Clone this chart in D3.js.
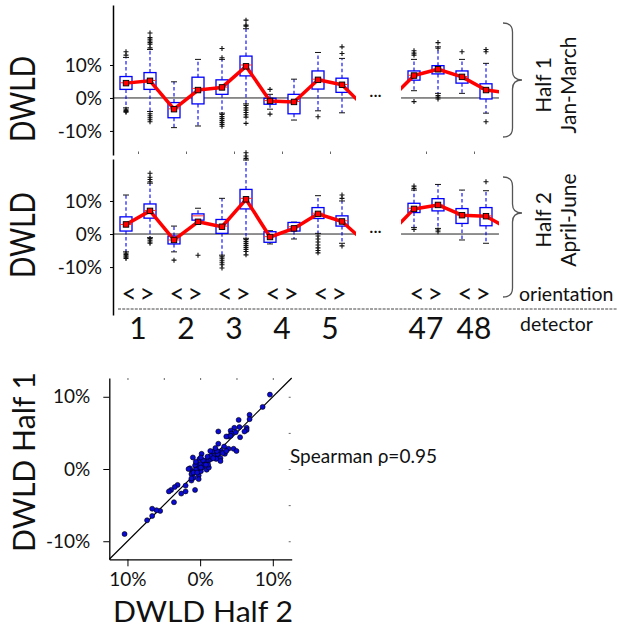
<!DOCTYPE html>
<html>
<head>
<meta charset="utf-8">
<script src="https://cdn.jsdelivr.net/npm/d3@7"></script>
<style>
  body { margin: 0; background: #fff; }
  text { font-family: Lato, "Open Sans", sans-serif; fill: #111; }
</style>
</head>
<body>
<div id="chart"></div>
<script>
// ---- data ----
// box slots (two orientations per detector); 10,11 are the gap, 16 off to the right
const slots = [0, 1, 2, 3, 4, 5, 6, 7, 8, 9, 12, 13, 14, 15];
const orientLabels = ["<", ">", "<", ">", "<", ">", "<", ">", "<", ">", "<", ">", "<", ">"];
const detectors = ["1", "2", "3", "4", "5", "47", "48"];
const detectorSlots = [0.5, 2.5, 4.5, 6.5, 8.5, 12.5, 14.5];
const yTicks = [-10, 0, 10];

// Half 1 (Jan-March), values in %
const h1Lo   = [-3.0, -4.1, -9.0, -8.5, -4.6, -1.8, -3.4, -6.7, -3.9, -4.5, 2.2, 1.4, 1.4, -4.6];
const h1Q1   = [2.6, 2.6, -6.0, -1.8, 1.1, 6.7, -1.9, -4.8, 2.7, 1.7, 5.4, 7.3, 4.5, -0.3];
const h1Med  = [4.6, 5.3, -3.3, 2.9, 3.3, 10.0, -0.8, -1.1, 5.7, 4.1, 6.9, 8.7, 6.5, 2.6];
const h1Q3   = [6.5, 7.7, -1.4, 6.3, 5.5, 12.7, -0.1, 1.1, 8.2, 6.0, 8.2, 9.8, 8.2, 4.3];
const h1Hi   = [12.3, 14.7, 4.9, 11.7, 11.7, 21.0, 1.1, 5.7, 13.8, 12.0, 11.7, 15.5, 11.7, 10.5];
const h1Mean = [4.5, 5.2, -3.4, 2.4, 3.2, 9.6, -0.9, -1.2, 5.5, 4.0, 6.8, 8.7, 6.4, 2.4];
const h1Out  = [
  [13.0, 14.0, -3.4, -3.8, -4.1, -4.3],
  [15.2, 16.3, 16.8, 17.3, 17.8, 18.3, 19.7, -4.8, -5.4, -6.0, -6.6, -7.2],
  [], [],
  [12.2, 15.0, -5.0, -5.6, -6.2, -6.8, -7.4, -8.0, -8.6],
  [21.8, 22.1, 23.6, -2.3, -3.0, -3.7, -4.4, -5.1, -5.8, -7.7],
  [2.6, -4.9], [], [-5.7], [13.5, 15.5],
  [13.0, 13.6, 14.3, -1.1],
  [16.8, 15.1, 0.7, 0.2, -0.3],
  [14.0],
  [14.0, 14.7, -7.2]
];

// Half 2 (April-June)
const h2Lo   = [-5.4, -1.1, -5.4, 4.0, -6.4, -1.3, -3.0, -1.5, 0.2, -2.8, 2.0, 1.7, -1.8, -2.8];
const h2Q1   = [0.9, 4.8, -3.0, 4.2, 0.2, 7.6, -2.5, 0.9, 4.7, 2.4, 6.5, 7.0, 3.2, 2.5];
const h2Med  = [2.9, 7.1, -1.8, 5.5, 2.4, 10.8, -0.8, 2.2, 6.3, 4.0, 7.8, 8.8, 5.7, 5.5];
const h2Q3   = [5.2, 9.1, -0.6, 6.1, 4.4, 13.5, 0.7, 3.5, 8.0, 5.5, 9.3, 10.7, 7.7, 8.0];
const h2Hi   = [11.8, 15.4, 2.4, 7.8, 10.8, 22.4, 1.0, 3.6, 11.6, 10.0, 13.3, 15.0, 13.3, 13.1];
const h2Mean = [2.9, 7.0, -1.8, 3.7, 2.2, 10.5, -0.9, 1.7, 6.1, 3.8, 7.6, 8.8, 5.7, 5.4];
const h2Out  = [
  [-5.8, -6.2, -6.6, -7.0, -7.4],
  [15.8, 16.5, 17.2, 18.4, -1.4, -1.9, -2.4, -2.8],
  [-7.9], [-6.4],
  [-6.9, -7.5, -8.1, -8.7, -9.3, -10.3],
  [22.9, 23.6, 24.6, -1.7, -2.3, -2.9, -3.5, -4.1, -4.7, -5.3, -6.3],
  [], [],
  [-0.6, -1.5, -2.4, -3.3, -4.2, -5.0, -5.7],
  [10.8, 11.8, -3.6],
  [13.8, 14.5, 1.4],
  [1.2, 0.7],
  [],
  [15.8]
];

// means of the neighbouring (clipped) slots, so the red line runs off the edges
const edgeSlots = [10, 11, 16];
const h1Edge = [-3.2, -0.5, 1.5];
const h2Edge = [-2.7, 0.1, 1.3];

// scatter: per-orientation DWLD, half 2 (x) vs half 1 (y)
const half2 = [-10.4, 9.6, 8.6, 6.8, 6.8, 5.3, 6.4, 6.4, 5.5, 4.7, 4.2, 3.9, 4.3, 3.6, 2.5, 4.6, 5.0, 3.9, 3.3, 2.5,
  2.9, 2.6, 2.2, 1.7, 1.4, 1.9, 2.5, 2.8, 2.2, 1.5, 1.2, 0.9, 0.6, 1.4, 1.0, 2.4, 0.2, -0.1, -0.5, -0.3,
  -0.7, -1.0, 0.1, 0.3, 0.6, 0.9, 1.2, 0.1, -0.3, -0.6, -1.1, -1.2, -0.9, -0.2, -0.9, -0.2, -1.2, -0.7, -3.1, -3.5,
  -4.0, -4.3, -2.0, -2.0, -2.6, -3.6, -5.5, -6.0, -6.6, -6.6, -7.3, -1.4, 0.1, 0.4, 3.4, 4.2, 4.9, 6.1, 5.4, 2.8,
  1.1, 1.8, -0.6, -1.6, 0.1, 2.3, 3.1, -1.2, 0.8, 3.6, 2.1, -0.4];
const half1 = [-9.0, 10.3, 8.6, 7.5, 6.9, 6.8, 5.7, 5.4, 4.4, 5.7, 5.3, 4.5, 4.9, 4.5, 5.2, 2.8, 2.5, 2.8, 3.1, 3.5,
  2.5, 2.3, 2.5, 2.4, 2.5, 1.8, 1.7, 1.5, 1.4, 1.4, 1.2, 1.1, 1.1, 1.8, 1.7, 2.1, 2.1, 1.4, 0.8, 0.5,
  0.5, 1.6, 0.7, 0.2, 0.6, -0.1, 0.2, -0.3, 0.0, -0.1, -0.3, -0.7, -0.5, -0.9, -1.2, -1.4, -1.6, -2.9, -2.2, -2.5,
  -2.9, -3.1, -2.3, -3.1, -3.4, -4.6, -5.8, -5.7, -5.5, -6.5, -7.1, 0.1, 0.2, 1.2, 2.1, 4.6, 5.1, 5.2, 5.8, 1.1,
  0.6, 1.5, 1.0, 0.0, 1.6, 2.5, 2.2, -1.3, 0.6, 2.5, 2.9, -0.5];
const scatterTicks = [-10, 0, 10];
const scatterTickLabels = ["10%", "0%", "10%"];
const spearman = 0.95;

// ---- layout ----
const W = 617, H = 630;
const svg = d3.select("#chart").append("svg").attr("width", W).attr("height", H);
const defs = svg.append("defs");

const x = d3.scaleLinear().domain([0, 1]).range([126, 150]);
const axisX = 113;
const groups = [[-0.54, 9.58], [11.46, 15.54]];
const boxHalf = 6, capHalf = 3;
const plusPath = "M-2.5,0H2.5M0,-2.5V2.5";

const panels = [
  { id: "h1", y: d3.scaleLinear().domain([-17.3, 28.2]).range([155, 5]),
    lo: h1Lo, q1: h1Q1, med: h1Med, q3: h1Q3, hi: h1Hi, mean: h1Mean, out: h1Out, edge: h1Edge,
    title: ["Half 1", "Jan-March"] },
  { id: "h2", y: d3.scaleLinear().domain([-24.5, 22.7]).range([315, 159]),
    lo: h2Lo, q1: h2Q1, med: h2Med, q3: h2Q3, hi: h2Hi, mean: h2Mean, out: h2Out, edge: h2Edge,
    title: ["Half 2", "April-June"] }
];

function bracePath(x0, y0, y1, ym, w) {
  const xm = x0 + w * 0.5, r = 9;
  return `M${x0},${y0} Q${xm},${y0} ${xm},${y0 + r} L${xm},${ym - r} Q${xm},${ym} ${x0 + w},${ym}` +
         ` Q${xm},${ym} ${xm},${ym + r} L${xm},${y1 - r} Q${xm},${y1} ${x0},${y1}`;
}

panels.forEach(p => {
  const y = p.y;
  const g = svg.append("g").attr("class", "panel " + p.id);

  groups.forEach((gr, k) => {
    defs.append("clipPath").attr("id", `clip-${p.id}-${k}`)
      .append("rect").attr("x", x(gr[0])).attr("y", 0)
        .attr("width", x(gr[1]) - x(gr[0])).attr("height", H);
  });

  // zero lines
  groups.forEach(gr => {
    g.append("line").attr("x1", x(gr[0])).attr("x2", x(gr[1]))
      .attr("y1", y(0)).attr("y2", y(0)).attr("stroke", "#222").attr("stroke-width", 1);
  });

  // y axis
  const ax = g.append("g").attr("transform", `translate(${axisX},0)`)
    .call(d3.axisLeft(y).tickValues(yTicks).tickFormat(d => d + "%").tickSize(3).tickSizeOuter(0).tickPadding(8));
  ax.select(".domain").attr("stroke", "#000").attr("stroke-width", 1.5);
  ax.selectAll("text").attr("font-size", 19).attr("font-family", "Lato, sans-serif").attr("fill", "#222");

  // gap dots
  g.append("text").attr("x", x((groups[0][1] + groups[1][0]) / 2) - 3).attr("y", y(0) + 2)
    .attr("text-anchor", "middle").attr("font-size", 16).text("···");

  // boxes
  const b = g.selectAll("g.box").data(slots).join("g").attr("class", "box")
    .attr("transform", s => `translate(${x(s)},0)`);
  b.append("line").attr("y1", (s, i) => y(p.q3[i])).attr("y2", (s, i) => y(p.hi[i]))
    .attr("stroke", "#0000ff").attr("stroke-width", 1.1).attr("stroke-dasharray", "3.5,2.5");
  b.append("line").attr("y1", (s, i) => y(p.q1[i])).attr("y2", (s, i) => y(p.lo[i]))
    .attr("stroke", "#0000ff").attr("stroke-width", 1.1).attr("stroke-dasharray", "3.5,2.5");
  b.append("line").attr("x1", -capHalf).attr("x2", capHalf)
    .attr("y1", (s, i) => y(p.hi[i])).attr("y2", (s, i) => y(p.hi[i])).attr("stroke", "#111");
  b.append("line").attr("x1", -capHalf).attr("x2", capHalf)
    .attr("y1", (s, i) => y(p.lo[i])).attr("y2", (s, i) => y(p.lo[i])).attr("stroke", "#111");
  b.append("rect").attr("x", -boxHalf).attr("width", boxHalf * 2)
    .attr("y", (s, i) => y(p.q3[i])).attr("height", (s, i) => y(p.q1[i]) - y(p.q3[i]))
    .attr("fill", "#fff").attr("stroke", "#0000ff").attr("stroke-width", 1.3);
  b.append("line").attr("x1", -boxHalf).attr("x2", boxHalf)
    .attr("y1", (s, i) => y(p.med[i])).attr("y2", (s, i) => y(p.med[i])).attr("stroke", "#ff3030");
  b.each(function(s, i) {
    d3.select(this).selectAll("path.out").data(p.out[i]).join("path").attr("class", "out")
      .attr("d", plusPath).attr("transform", v => `translate(0,${y(v)})`)
      .attr("stroke", "#111").attr("stroke-width", 1.1).attr("fill", "none");
  });

  // red mean line, one piece per group, clipped
  const pts = slots.map((s, i) => [s, p.mean[i]]).concat(edgeSlots.map((s, i) => [s, p.edge[i]]))
    .sort((a, c) => a[0] - c[0]);
  const line = d3.line().x(d => x(d[0])).y(d => y(d[1]));
  const pieces = [pts.filter(d => d[0] <= 10), pts.filter(d => d[0] >= 11)];
  pieces.forEach((pc, k) => {
    g.append("path").datum(pc).attr("d", line).attr("fill", "none")
      .attr("stroke", "#ff0000").attr("stroke-width", 3.5).attr("stroke-linejoin", "round")
      .attr("clip-path", `url(#clip-${p.id}-${k})`);
  });
  g.selectAll("rect.mean").data(slots).join("rect").attr("class", "mean")
    .attr("x", s => x(s) - 2.75).attr("y", (s, i) => y(p.mean[i]) - 2.75)
    .attr("width", 5.5).attr("height", 5.5).attr("fill", "#ff0000").attr("stroke", "#000").attr("stroke-width", 0.9);

  // brace and labels on the right
  const yTopPx = y.range()[1], yBotPx = y.range()[0];
  const ym = p.id === "h1" ? 80 : 213;
  g.append("path").attr("d", bracePath(503, yTopPx + 18, yBotPx - 18, ym, 19))
    .attr("fill", "none").attr("stroke", "#555").attr("stroke-width", 1.3);
  const cy = p.id === "h1" ? 85 : 220;
  g.append("text").attr("transform", `translate(551,${cy}) rotate(-90)`).attr("text-anchor", "middle")
    .attr("font-size", 21).text(p.title[0]);
  g.append("text").attr("transform", `translate(576,${cy}) rotate(-90)`).attr("text-anchor", "middle")
    .attr("font-size", 21).text(p.title[1]);

  // "DWLD" axis label
  g.append("text").attr("transform", `translate(35,${y(0) + 1}) rotate(-90)`).attr("text-anchor", "middle")
    .attr("font-size", 34).attr("textLength", 86).attr("lengthAdjust", "spacingAndGlyphs").text("DWLD");
});

// small ticks on top of the second panel
const topTicks = svg.append("g").attr("transform", "translate(0,154)")
  .call(d3.axisTop(x).tickValues(detectorSlots).tickSize(2.5).tickFormat(""));
topTicks.select(".domain").remove();
topTicks.selectAll("line").attr("stroke", "#666");

// orientation row
svg.selectAll("text.orient").data(slots).join("text").attr("class", "orient")
  .attr("x", (s, i) => x(s) + (orientLabels[i] === "<" ? 3 : -3)).attr("y", 303)
  .attr("text-anchor", "middle").attr("font-size", 26)
  .text((s, i) => orientLabels[i]);
svg.append("text").attr("x", 519).attr("y", 301).attr("font-size", 19.5).text("orientation");
svg.append("line").attr("x1", 118).attr("x2", W).attr("y1", 309).attr("y2", 309)
  .attr("stroke", "#444").attr("stroke-dasharray", "3,1.2");
svg.selectAll("text.det").data(detectors).join("text").attr("class", "det")
  .attr("x", (d, i) => x(detectorSlots[i])).attr("y", 339).attr("text-anchor", "middle")
  .attr("font-size", 30).attr("font-family", "'Liberation Sans Narrow', 'DejaVu Sans Condensed', sans-serif")
  .text(d => d);
svg.append("text").attr("x", 520).attr("y", 331).attr("font-size", 19.5).text("detector");

// ---- scatter ----
const xs = d3.scaleLinear().domain([-12.5, 12.6]).range([109.3, 291.7]);
const ys = d3.scaleLinear().domain([-12.5, 12.6]).range([559.3, 378]);
const sg = svg.append("g").attr("class", "scatter");

const sxAxis = sg.append("g").attr("transform", `translate(0,${ys.range()[0]})`)
  .call(d3.axisBottom(xs).tickValues(scatterTicks).tickFormat((d, i) => scatterTickLabels[i])
    .tickSize(7).tickPadding(6).tickSizeOuter(0));
const syAxis = sg.append("g").attr("transform", `translate(${xs.range()[0]},0)`)
  .call(d3.axisLeft(ys).tickValues(scatterTicks).tickFormat(d => d + "%")
    .tickSize(6).tickPadding(13).tickSizeOuter(0));
[sxAxis, syAxis].forEach(a => {
  a.select(".domain").attr("stroke", "#000").attr("stroke-width", 1.3);
  a.selectAll("text").attr("font-size", 19).attr("font-family", "Lato, sans-serif").attr("fill", "#222");
});
const minor = [-10, -5, 0, 5, 10];
const stAxis = sg.append("g").attr("transform", `translate(0,${ys.range()[1]})`)
  .call(d3.axisTop(xs).tickValues(minor).tickSize(-2).tickFormat(""));
const srAxis = sg.append("g").attr("transform", `translate(${xs.range()[1] - 1},0)`)
  .call(d3.axisRight(ys).tickValues(minor).tickSize(-2).tickFormat(""));
[stAxis, srAxis].forEach(a => { a.select(".domain").remove(); a.selectAll("line").attr("stroke", "#666"); });

sg.append("line").attr("x1", xs(-12.5)).attr("y1", ys(-12.5)).attr("x2", xs(12.6)).attr("y2", ys(12.6))
  .attr("stroke", "#000").attr("stroke-width", 1.2);
sg.selectAll("circle").data(half2).join("circle")
  .attr("cx", d => xs(d)).attr("cy", (d, i) => ys(half1[i])).attr("r", 2.5)
  .attr("fill", "#0a0ad2").attr("stroke", "#000").attr("stroke-width", 0.6);

sg.append("text").attr("x", 203).attr("y", 622).attr("text-anchor", "middle").attr("font-size", 28)
  .attr("textLength", 180).attr("lengthAdjust", "spacingAndGlyphs").text("DWLD Half 2");
sg.append("text").attr("transform", "translate(35,462) rotate(-90)").attr("text-anchor", "middle")
  .attr("font-size", 30).attr("textLength", 180).attr("lengthAdjust", "spacingAndGlyphs").text("DWLD Half 1");
sg.append("text").attr("x", 290).attr("y", 463).attr("font-size", 19).text(`Spearman ρ=${spearman}`);
</script>
</body>
</html>
